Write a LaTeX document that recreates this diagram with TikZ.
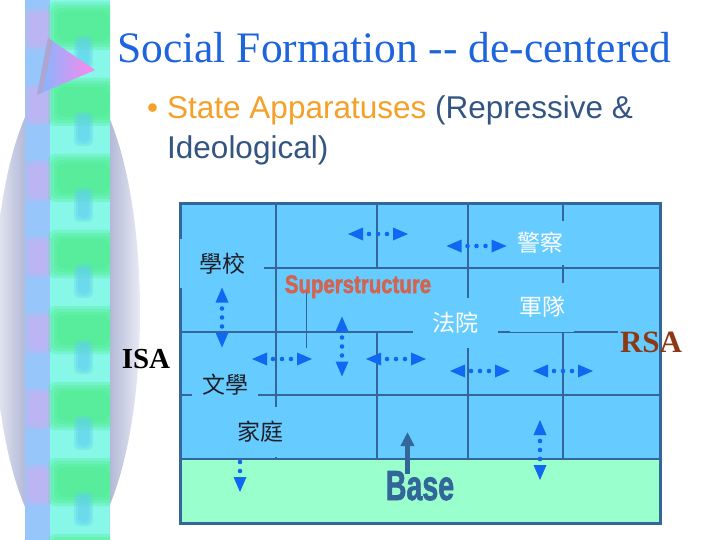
\documentclass[tikz,border=0pt]{standalone}
\usepackage{graphicx}
\usepackage{fontspec}
\setmainfont{Liberation Serif}
\newfontfamily\arialf{Liberation Sans}
\newfontfamily\heavyf[BoldFeatures={FakeBold=2}]{Liberation Sans}
\newfontfamily\cjkf{Noto Sans CJK TC}
\usetikzlibrary{arrows.meta}
\definecolor{boxblue}{RGB}{102,204,255}
\definecolor{boxgreen}{RGB}{153,255,204}
\definecolor{linec}{RGB}{51,102,153}
\definecolor{arrowc}{RGB}{16,104,240}
\definecolor{titlec}{RGB}{30,100,220}
\definecolor{orangec}{RGB}{245,160,40}
\definecolor{bodyc}{RGB}{50,85,130}
\definecolor{superc}{RGB}{210,100,80}
\definecolor{rsac}{RGB}{140,56,20}
\definecolor{stripc}{RGB}{135,248,232}
\definecolor{stripgreen}{RGB}{75,235,135}
\definecolor{stripblue}{RGB}{150,198,250}
\definecolor{striplav}{RGB}{200,178,242}
\definecolor{stemc}{RGB}{95,205,240}
\definecolor{haloa}{RGB}{180,185,215}
\definecolor{haloc}{RGB}{236,238,246}
\definecolor{tribl}{RGB}{125,185,255}
\definecolor{tripk}{RGB}{255,135,235}
\definecolor{triedge}{RGB}{175,165,210}
\definecolor{cjkdark}{RGB}{30,30,40}
\begin{document}
\begin{tikzpicture}[x=1pt,y=-1pt,
  grid/.style={linec, line width=2pt},
  thingrid/.style={linec, line width=1pt},
  lblbox/.style={fill=boxblue, inner sep=0pt, text=cjkdark, font=\cjkf\fontsize{23}{23}\selectfont},
  dblarr/.pic={
    \fill[arrowc] (-30,0) -- (-15,-6.5) -- (-15,6.5) -- cycle;
    \fill[arrowc] (30,0) -- (15,-6.5) -- (15,6.5) -- cycle;
    \foreach \d in {-9,0,9} {\fill[arrowc] (\d,0) circle[radius=2.3pt];}
  }]
\useasboundingbox (0,0) rectangle (720,540);
\fill[white] (0,0) rectangle (720,540);
% left decoration: halo
\begin{scope}
  \clip (67,312) ellipse (73 and 238);
  \shade[left color=haloc, right color=haloa] (-8,0) rectangle (25,540);
  \shade[left color=haloa, right color=haloc] (110,0) rectangle (142,540);
\end{scope}
% strip
\begin{scope}
  \clip (25,0) rectangle (110,540);
  \fill[stripc] (25,0) rectangle (110,540);
  \fill[stripblue] (25,0) rectangle (50,540);
  \foreach \s in {8,84,...,540} {
    \foreach \i in {0,1,2,3} {
      \fill[striplav, opacity=0.3, rounded corners=6pt] (24+2*\i,\s+2*\i) rectangle (52-2*\i,\s+42-2*\i);
      \fill[stripgreen, opacity=0.3, rounded corners=7pt] (48+3*\i,\s-6+3*\i) rectangle (118-3*\i,\s+42-3*\i);
    }
    \foreach \i in {0,1,2} {
      \fill[stemc, opacity=0.3, rounded corners=5pt] (74+2*\i,\s+28+2*\i) rectangle (93-2*\i,\s+62-2*\i);
    }
  }
\end{scope}
\shade[left color=tribl, right color=tripk] (48,38) -- (95,70) -- (37,95) -- cycle;
\fill[triedge] (48,38) -- (53,41) -- (42,93) -- (37,95) -- cycle;
% title and bullet
\node[anchor=base west, inner sep=0pt, text=titlec, font=\fontsize{43.5}{48}\selectfont] (title) at (117,63) {Social Formation -{}- de-centered};
\node[anchor=base west, inner sep=0pt, text=orangec, font=\arialf\fontsize{31.5}{36}\selectfont] (bullet) at (147,119) {•};
\node[anchor=base west, inner sep=0pt, text=bodyc, font=\arialf\fontsize{31.5}{36}\selectfont] (lineone) at (167,119) {\textcolor{orangec}{State Apparatuses} (Repressive \&};
\node[anchor=base west, inner sep=0pt, text=bodyc, font=\arialf\fontsize{31.5}{36}\selectfont] (linetwo) at (167,159) {Ideological)};
% diagram background
\fill[boxblue] (180,204) rectangle (660,459);
\fill[boxgreen] (180,459) rectangle (660,523);
% grid lines
\draw[grid] (276,204) -- (276,459);
\draw[grid] (377,204) -- (377,268);
\draw[grid] (377,332) -- (377,459);
\draw[grid] (468,204) -- (468,459);
\draw[grid] (563,204) -- (563,459);
\draw[grid] (180,268) -- (660,268);
\draw[grid] (180,332) -- (618,332);
\draw[grid] (180,395) -- (660,395);
\draw[grid] (180,459) -- (660,459);
\draw[thingrid] (306,292) -- (306,348);
\draw[linec, line width=3pt] (180,204) rectangle (660,523);
% labels with filled boxes
\node[lblbox, minimum width=84pt, minimum height=49pt] (xuexiao) at (222,263.5) {學校};
\node[lblbox, text=white, minimum width=64pt, minimum height=44pt] (jingcha) at (540,243) {警察};
\node[lblbox, text=white, minimum width=85pt, minimum height=50pt] (fayuan) at (455.5,323) {法院};
\node[lblbox, text=white, minimum width=64pt, minimum height=49pt] (jundui) at (542,307) {軍隊};
\node[lblbox, minimum width=66pt, minimum height=28pt] (wenxue) at (225,385) {文學};
% double arrows
\pic (ha) at (378,234) {dblarr};
\pic (hb) at (476.5,246) {dblarr};
\pic (hc) at (282,359) {dblarr};
\pic (hd) at (396,359) {dblarr};
\pic (he) at (480,371) {dblarr};
\pic (hf) at (563,371) {dblarr};
\pic[rotate=90] (va) at (222,317.5) {dblarr};
\pic[rotate=90] (vb) at (342,346.5) {dblarr};
\pic[rotate=90] (vc) at (540,450) {dblarr};
\pic[rotate=90] (vd) at (240,462) {dblarr};
\node[lblbox, minimum width=90pt, minimum height=50pt] (jiating) at (260,432) {家庭};
% superstructure / base
\node[anchor=base, inner sep=0pt, text=superc, font=\heavyf\bfseries\fontsize{24}{24}\selectfont] (super) at (358,293) {\scalebox{0.85}[1.05]{Superstructure}};
\coordinate (arrfoot) at (407.5,474);
\coordinate (arrtip) at (407.5,432);
\draw[linec, line width=5pt, -{Triangle[width=13pt,length=14pt]}] (arrfoot) -- (arrtip);
\node[anchor=base, inner sep=0pt, text=linec, font=\heavyf\bfseries\fontsize{42}{42}\selectfont] (base) at (420,500) {\scalebox{0.68}[1]{Base}};
\node[anchor=base, inner sep=0pt, text=black, font=\bfseries\fontsize{29}{29}\selectfont] (isa) at (146,368) {ISA};
\node[anchor=base, inner sep=0pt, text=rsac, font=\bfseries\fontsize{31}{31}\selectfont] (rsa) at (651,352) {RSA};
\end{tikzpicture}
\end{document}
